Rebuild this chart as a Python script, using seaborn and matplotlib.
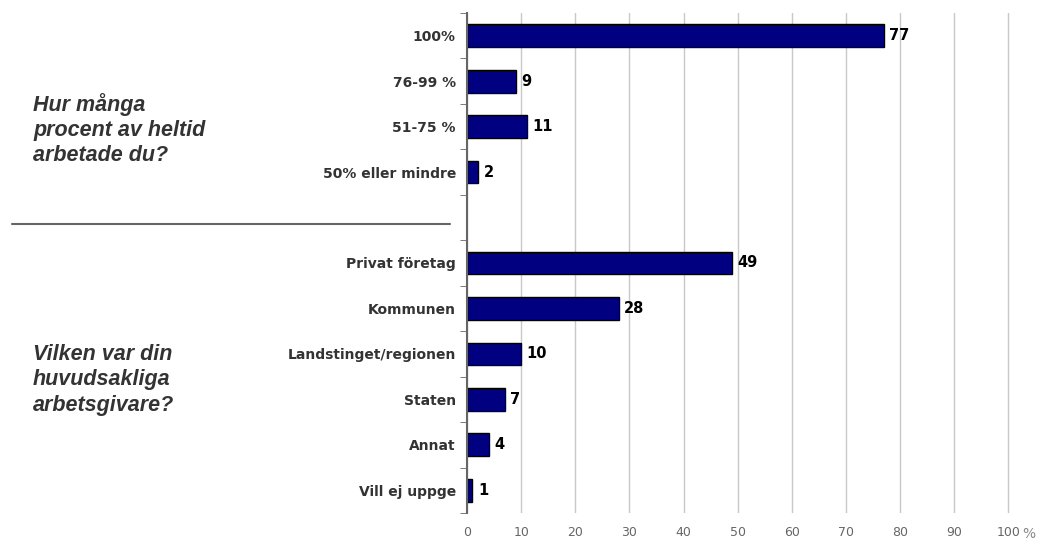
import pandas as pd
import numpy as np
import seaborn as sns
import matplotlib.pyplot as plt
from matplotlib.lines import Line2D

# data
kategorier = ['100%', '76-99 %', '51-75 %', '50% eller mindre',
              'Privat företag', 'Kommunen', 'Landstinget/regionen',
              'Staten', 'Annat', 'Vill ej uppge']
andel = [77, 9, 11, 2, 49, 28, 10, 7, 4, 1]
ordning = ['100%', '76-99 %', '51-75 %', '50% eller mindre', ' ',
           'Privat företag', 'Kommunen', 'Landstinget/regionen',
           'Staten', 'Annat', 'Vill ej uppge']
xticks = [0, 10, 20, 30, 40, 50, 60, 70, 80, 90, 100]
xticklabels = ['0', '10', '20', '30', '40', '50', '60', '70', '80', '90', '100']
rubrik1 = 'Hur många\nprocent av heltid\narbetade du?'
rubrik2 = 'Vilken var din\nhuvudsakliga\narbetsgivare?'

df = pd.DataFrame({'kategori': kategorier, 'andel': andel})

sns.set_style('white')
plt.rcParams['font.family'] = ['DejaVu Sans']

fig = plt.figure(figsize=(10.39, 5.41), dpi=100)
ax = fig.add_axes([467/1039, 1 - 513/541, (1010 - 467)/1039, (513 - 13)/541])

sns.barplot(data=df, x='andel', y='kategori', order=ordning, orient='h',
            color='#000080', edgecolor='black', linewidth=1, width=0.5,
            saturation=1, ax=ax)

for c in ax.containers:
    ax.bar_label(c, fmt='%d', padding=4, fontsize=10.5, fontweight='bold', color='black')

ax.set_xlim(0, 100.3)
ax.set_ylim(len(ordning) - 0.5, -0.5)
ax.set_xticks(xticks)
ax.set_xticklabels(xticklabels, color='#666666', fontsize=9)
ax.text(102.5, -0.028, '%', transform=ax.get_xaxis_transform(), fontsize=10,
        color='#888888', ha='left', va='top')
ax.tick_params(axis='x', length=0, pad=9)
ax.xaxis.grid(True, color='#c8c8c8', linewidth=1)
ax.set_axisbelow(True)

ax.set_xlabel('')
ax.set_ylabel('')
ax.set_yticks(range(len(ordning)))
ax.set_yticklabels(ordning, fontsize=10, fontweight='bold', color='#333333')
ax.set_yticks(np.arange(-0.5, len(ordning), 1), minor=True)
ax.tick_params(axis='y', which='major', length=0, pad=8)
ax.tick_params(axis='y', which='minor', length=5, color='#666666', direction='out', left=True)

for s in ['top', 'right', 'bottom']:
    ax.spines[s].set_visible(False)
ax.spines['left'].set_color('#666666')
ax.spines['left'].set_linewidth(1.5)

# rubriker till vänster
fig.text(33/1039, 1 - 130/541, rubrik1, fontsize=15.5, fontstyle='italic', family='Liberation Sans',
         fontweight='bold', color='#333333', va='center', ha='left', linespacing=1.25)
fig.text(33/1039, 1 - 380/541, rubrik2, fontsize=15.5, fontstyle='italic', family='Liberation Sans',
         fontweight='bold', color='#333333', va='center', ha='left', linespacing=1.25)
fig.add_artist(Line2D([12/1039, 450/1039], [1 - 224/541, 1 - 224/541],
                      color='#666666', linewidth=1.5))

fig.savefig('out.png', dpi=100)
